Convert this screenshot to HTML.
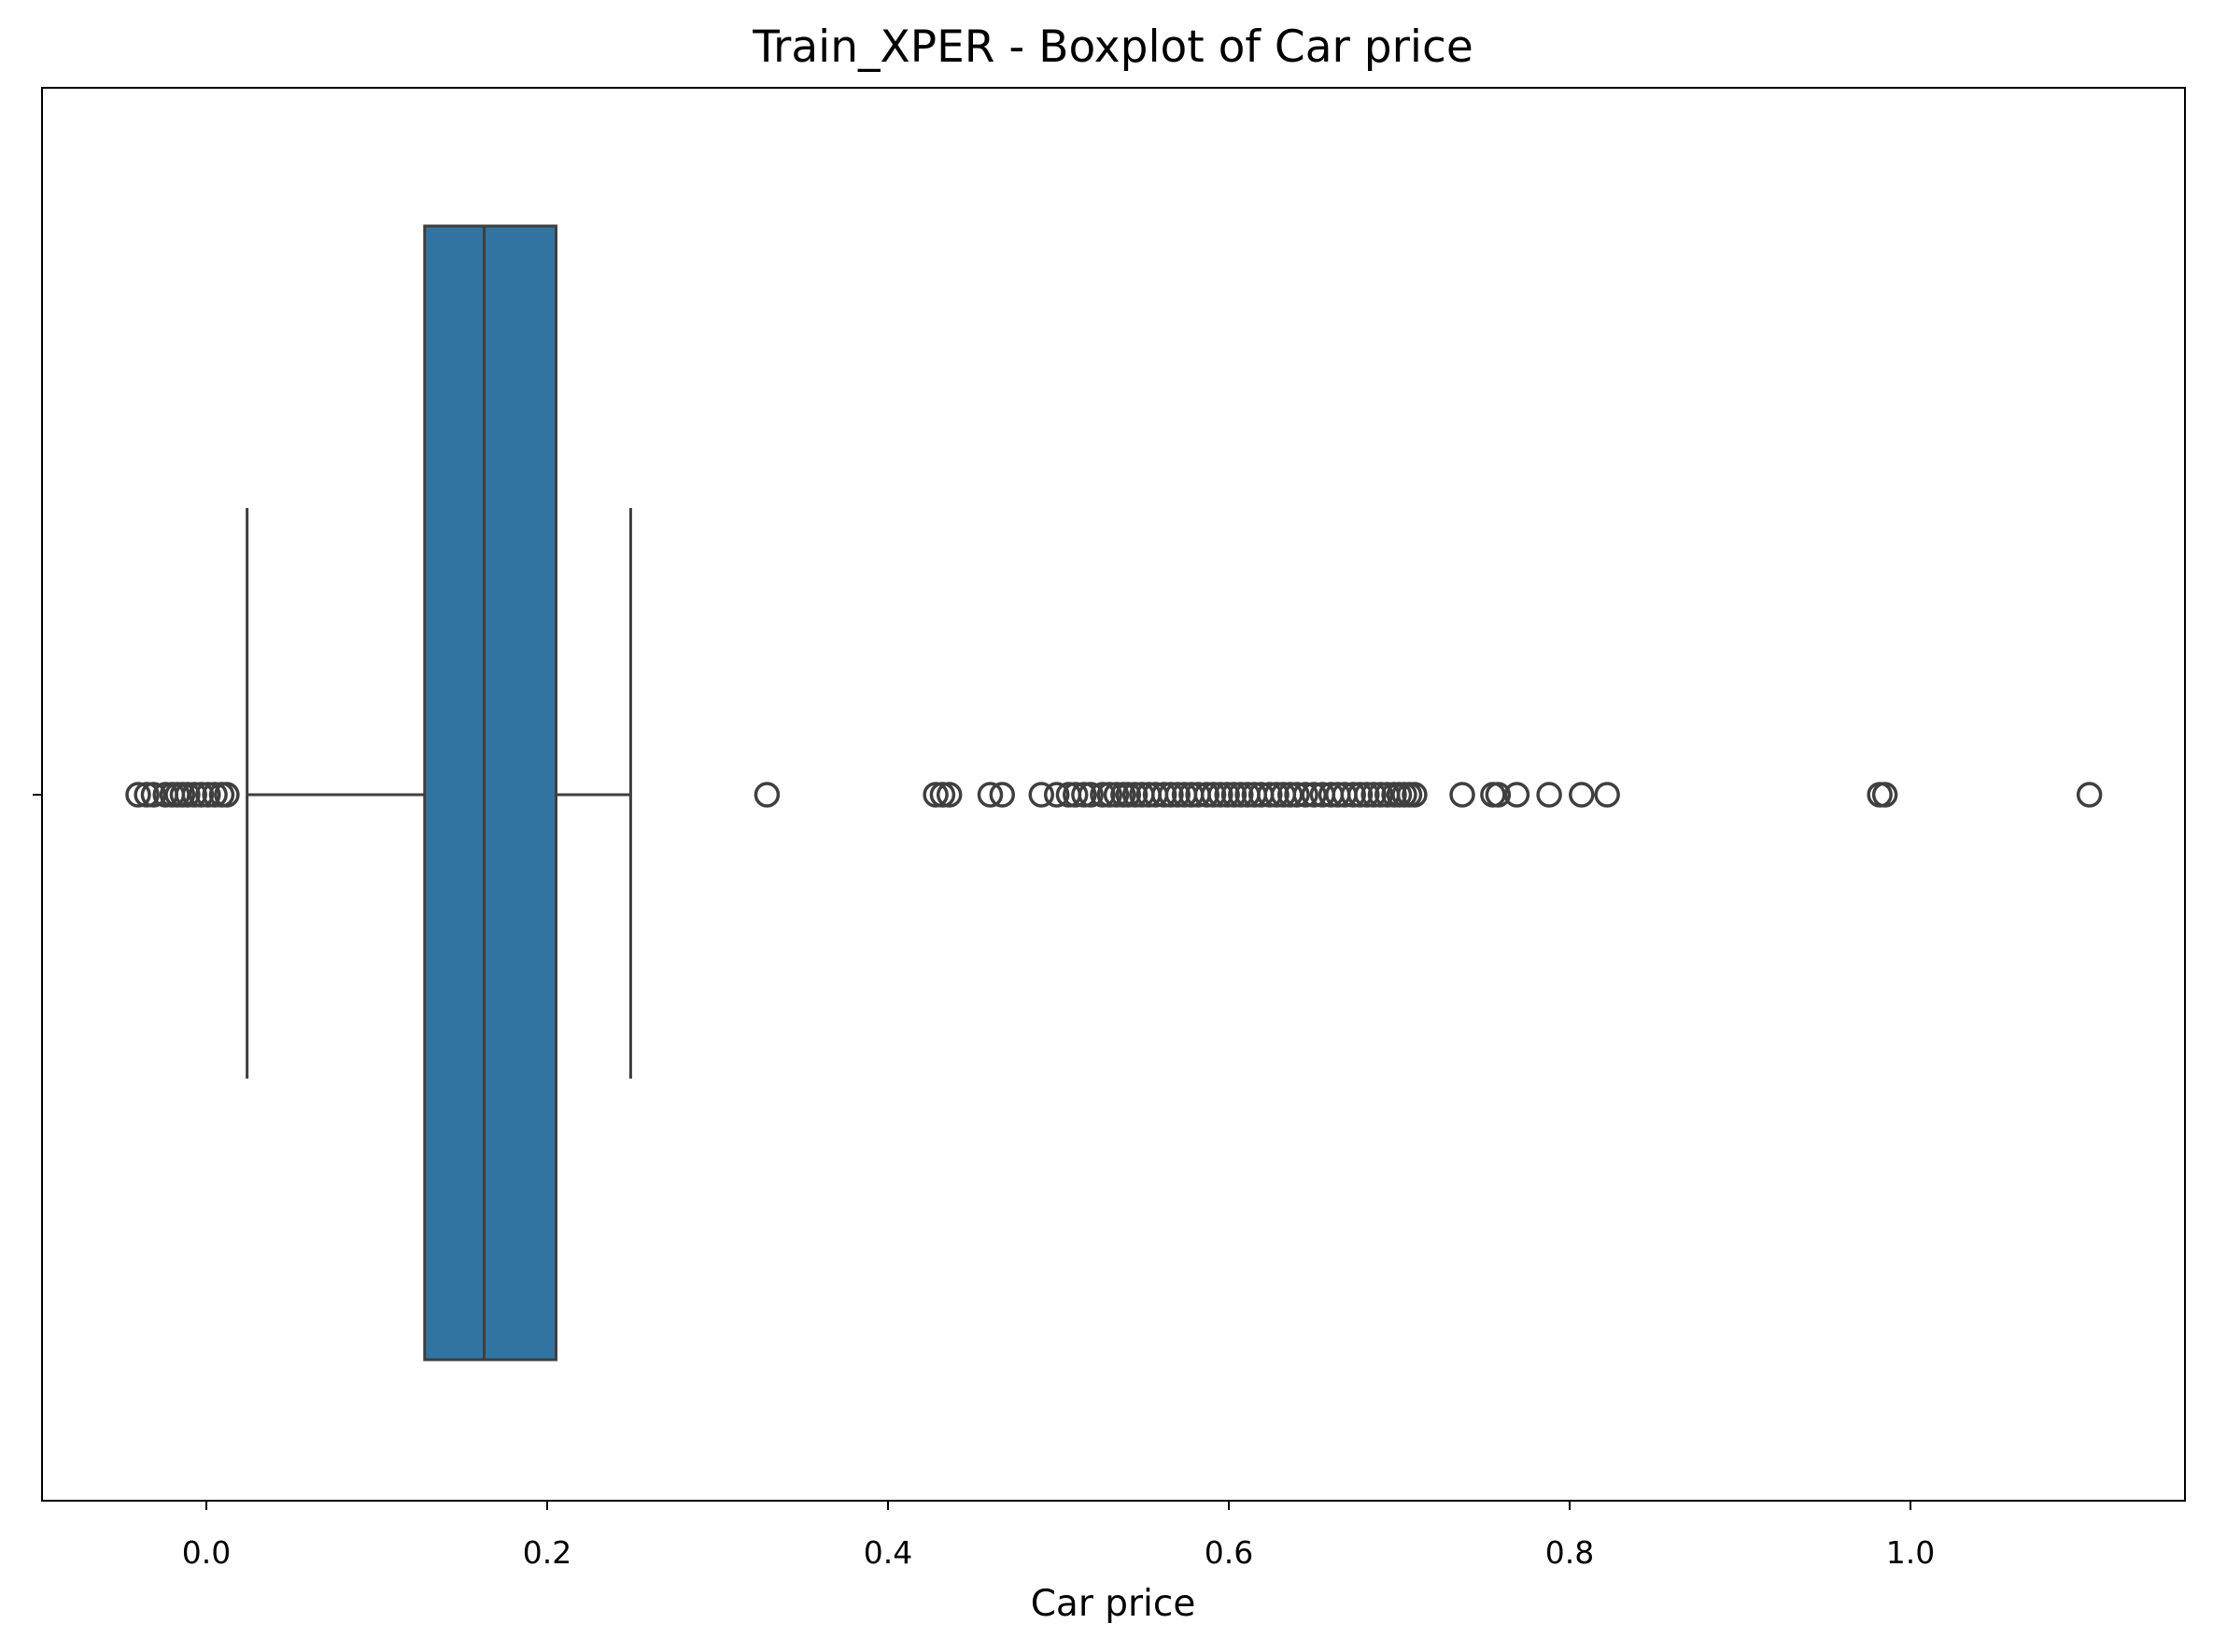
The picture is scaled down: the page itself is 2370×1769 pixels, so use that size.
<!DOCTYPE html>
<html><head><meta charset="utf-8"><style>
html,body{margin:0;padding:0;background:#fff;}
svg{display:block;font-family:"DejaVu Sans","Liberation Sans",sans-serif;}
</style></head><body>
<svg id="chart" width="2370" height="1769" viewBox="0 0 2370 1769">
<text x="1192" y="66" font-size="47" text-anchor="middle" fill="#000">Train_XPER - Boxplot of Car price</text>
<g id="plot"></g>
<rect x="45" y="94" width="2295" height="1513" fill="none" stroke="#000" stroke-width="2"/>
<text x="1192" y="1730" font-size="39" text-anchor="middle" fill="#000">Car price</text>
</svg>
<script>
const tickValues = [0.0, 0.2, 0.4, 0.6, 0.8, 1.0];
const tickLabels = ["0.0", "0.2", "0.4", "0.6", "0.8", "1.0"];
const whiskerLow = 0.0239;
const q1 = 0.1281;
const median = 0.163;
const q3 = 0.2052;
const whiskerHigh = 0.249;
const outliers = [-0.040,-0.035,-0.031,-0.024,-0.020,-0.017,-0.014,-0.011,-0.007,-0.003,0.001,0.005,0.009,0.012,
0.329,0.428,0.432,0.436,0.460,0.467,0.490,0.499,0.506,0.510,0.515,0.519,0.526,0.530,0.534,0.538,0.541,0.545,0.549,
0.553,0.557,0.562,0.566,0.570,0.574,0.578,0.582,0.587,0.591,0.595,0.599,0.603,0.607,0.611,0.615,0.619,0.624,0.628,
0.632,0.636,0.640,0.645,0.650,0.655,0.660,0.664,0.668,0.673,0.677,0.681,0.685,0.689,0.693,0.697,0.700,0.703,0.706,0.709,
0.737,0.755,0.758,0.769,0.788,0.807,0.822,0.982,0.985,1.105];

const NS = "http://www.w3.org/2000/svg";
const x = v => 221 + v * 1825;
const yC = 851, boxTop = 242, boxBot = 1456, capTop = 544, capBot = 1155;
const svg = document.getElementById('chart');
const g = document.getElementById('plot');
function mk(tag, attrs){const e=document.createElementNS(NS,tag);for(const k in attrs)e.setAttribute(k,attrs[k]);return e;}
const col = "#3f3f3f";

const wl = mk('line',{x1:x(whiskerLow),x2:x(q1),y1:yC,y2:yC,stroke:col,'stroke-width':3});


g.appendChild(wl);
const wh = mk('line',{x1:x(q3),x2:x(whiskerHigh),y1:yC,y2:yC,stroke:col,'stroke-width':3});


g.appendChild(wh);
const cl = mk('line',{x1:x(whiskerLow),x2:x(whiskerLow),y1:capTop,y2:capBot,stroke:col,'stroke-width':3});


g.appendChild(cl);
const ch = mk('line',{x1:x(whiskerHigh),x2:x(whiskerHigh),y1:capTop,y2:capBot,stroke:col,'stroke-width':3});


g.appendChild(ch);
const box = mk('rect',{x:x(q1),y:boxTop,width:x(q3)-x(q1),height:boxBot-boxTop,fill:'#3274a1',stroke:col,'stroke-width':3});


g.appendChild(box);
const med = mk('line',{x1:x(median),x2:x(median),y1:boxTop,y2:boxBot,stroke:col,'stroke-width':3});


g.appendChild(med);
outliers.forEach(v=>{
  const c = mk('circle',{cx:x(v),cy:yC,r:12,fill:'none',stroke:col,'stroke-width':3.5});
  
  
  g.appendChild(c);
});
tickValues.forEach((v,i)=>{
  const t = mk('line',{x1:x(v),x2:x(v),y1:1607,y2:1617,stroke:'#000','stroke-width':2});
  
  
  svg.appendChild(t);
  const l = mk('text',{x:x(v),y:1674,'font-size':33,'text-anchor':'middle',fill:'#000'});
  l.textContent = tickLabels[i];
  
  
  svg.appendChild(l);
});
const yt = mk('line',{x1:35,x2:45,y1:yC,y2:yC,stroke:'#000','stroke-width':2});


svg.appendChild(yt);
</script>
</body></html>
